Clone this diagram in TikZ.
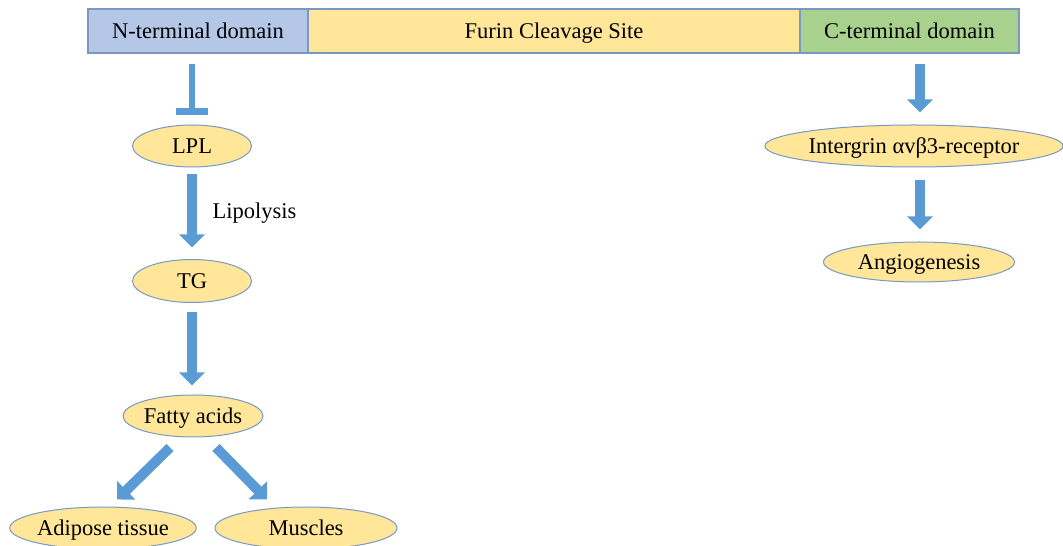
\documentclass[tikz,border=0pt]{standalone}
\usepackage{fontspec}
\setmainfont{Liberation Serif}
\usetikzlibrary{shapes.geometric,arrows.meta}
\definecolor{nblue}{HTML}{B4C7E7}
\definecolor{fyellow}{HTML}{FFE699}
\definecolor{cgreen}{HTML}{A9D18E}
\definecolor{edge}{HTML}{7A98C2}
\definecolor{arrowblue}{HTML}{5B9BD5}
\tikzset{
  txt/.style={font=\fontsize{22.5}{26}\selectfont, text=black},
  boxtxt/.style={txt, text height=16pt, text depth=1pt},
  barbox/.style={boxtxt, draw=edge, line width=1.2pt, rectangle, minimum height=44pt, inner sep=0pt},
  oval/.style={boxtxt, ellipse, draw=edge, line width=1pt, fill=fyellow, inner sep=0pt, minimum height=42pt},
  fat/.style={draw=arrowblue, line width=10pt, -{Triangle[width=25pt,length=13pt]}},
  inhib/.style={draw=arrowblue, line width=6pt, -{Rectangle[width=32pt,length=7pt]}}
}
\begin{document}
\begin{tikzpicture}[x=1pt,y=1pt]
\useasboundingbox (0,0) rectangle (1063,546);
% top bar
\node[barbox, fill=nblue, minimum width=220pt] (nterm) at (198,515) {N-terminal domain};
\node[barbox, fill=fyellow, minimum width=492pt] (furin) at (554,515) {Furin Cleavage Site};
\node[barbox, fill=cgreen, minimum width=219pt] (cterm) at (909.5,515) {C-terminal domain};
% left chain
\node[oval, minimum width=119pt] (lpl) at (192,400) {LPL};
\node[oval, minimum width=119pt, minimum height=43pt] (tg) at (192,265) {TG};
\node[oval, minimum width=140pt] (fa) at (193,130) {Fatty acids};
\node[oval, minimum width=180pt] (adipose) at (103,18) {Adipose tissue};
\node[oval, minimum width=182pt] (muscles) at (306,18) {Muscles};
% right chain
\node[oval, minimum width=296pt] (integrin) at (914,400) {Intergrin αvβ3-receptor};
\node[oval, minimum width=191pt, minimum height=40pt] (angio) at (919,284) {Angiogenesis};
% label
\node[txt, anchor=west] (lipo) at (209,333) {Lipolysis};
% connectors
\draw[inhib, shorten <=10pt, shorten >=9pt] (nterm.south -| lpl) -- (lpl.north);
\draw[fat, shorten <=7pt, shorten >=11.5pt] (lpl.south) -- (tg.north);
\draw[fat, shorten <=9.5pt, shorten >=9pt] (tg.south) -- (tg.south |- fa.north);
\draw[fat] ([xshift=-23pt,yshift=-10pt]fa.south) -- ([xshift=14pt,yshift=7pt]adipose.north);
\draw[fat] ([xshift=23pt,yshift=-10pt]fa.south) -- ([xshift=-39pt,yshift=7pt]muscles.north);
\draw[fat, shorten <=10pt, shorten >=12pt] ([xshift=10.5pt]cterm.south) -- ([xshift=6pt]integrin.north);
\draw[fat, shorten <=13pt, shorten >=12pt] ([xshift=6pt]integrin.south) -- ([xshift=1pt]angio.north);
\end{tikzpicture}
\end{document}
